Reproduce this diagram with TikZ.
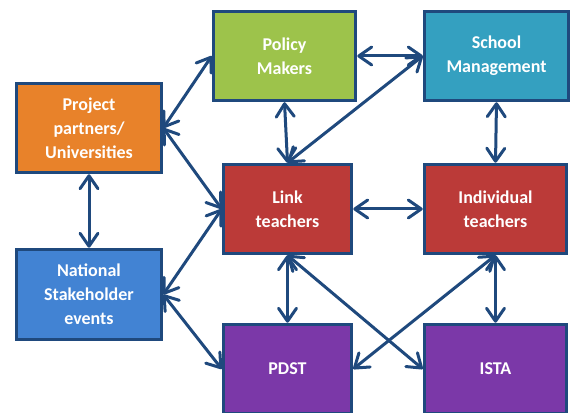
\documentclass[tikz,border=0pt]{standalone}
\usepackage{fontspec}
\setmainfont{Carlito}
\usetikzlibrary{arrows.meta}
\definecolor{bordc}{RGB}{31,73,125}
\definecolor{arrc}{RGB}{31,73,125}
\definecolor{orangec}{RGB}{232,130,42}
\definecolor{greenc}{RGB}{157,195,75}
\definecolor{tealc}{RGB}{52,160,192}
\definecolor{redc}{RGB}{187,58,56}
\definecolor{bluec}{RGB}{66,131,211}
\definecolor{purplec}{RGB}{123,56,168}
\tikzset{
  box/.style={draw=bordc, line width=3.5pt, text=white, align=center,
    font=\fontsize{18}{24}\selectfont\bfseries, inner sep=0pt},
  arr/.style={draw=arrc, line width=3pt, line cap=round, line join=round,
    {Straight Barb[length=13pt,width=18pt,line cap=round,line join=round]}-{Straight Barb[length=13pt,width=18pt,line cap=round,line join=round]}}
}
\begin{document}
\begin{tikzpicture}[x=1pt,y=1pt]
\useasboundingbox (0,0) rectangle (572,412);
% boxes (y = 412 - pixel y)
\node[box, fill=orangec, minimum width=145pt, minimum height=89pt] (pp) at (89,284) {Project\\partners/\\Universities};
\node[box, fill=greenc, minimum width=142pt, minimum height=89pt] (pm) at (284.5,356) {Policy\\Makers};
\node[box, fill=tealc, minimum width=144pt, minimum height=89pt] (sm) at (496.5,356) {School\\Management};
\node[box, fill=redc, minimum width=128pt, minimum height=89pt] (lt) at (287.5,203) {Link\\teachers};
\node[box, fill=redc, minimum width=142pt, minimum height=89pt] (it) at (495.5,203) {Individual\\teachers};
\node[box, fill=bluec, minimum width=145pt, minimum height=90pt] (ns) at (89,117.5) {National\\Stakeholder\\events};
\node[box, fill=purplec, minimum width=128pt, minimum height=89pt] (pd) at (287.5,43) {PDST};
\node[box, fill=purplec, minimum width=142pt, minimum height=89pt] (is) at (495.5,43) {ISTA};
% connectors
\draw[arr] (pp.east) -- (pm.west);
\draw[arr] (pp.east) -- (lt.west);
\draw[arr] (pp.south) -- (ns.north);
\draw[arr] (ns.east) -- (lt.west);
\draw[arr] (ns.east) -- (pd.west);
\draw[arr] (pm.east) -- (sm.west);
\draw[arr] (pm.south) -- (lt.north);
\draw[arr] (lt.north) -- (sm.west);
\draw[arr] (sm.south) -- (it.north);
\draw[arr] (lt.east) -- (it.west);
\draw[arr] (lt.south) -- (pd.north);
\draw[arr] (lt.south) -- (is.west);
\draw[arr] (it.south) -- (pd.east);
\draw[arr] (it.south) -- (is.north);
\end{tikzpicture}
\end{document}
